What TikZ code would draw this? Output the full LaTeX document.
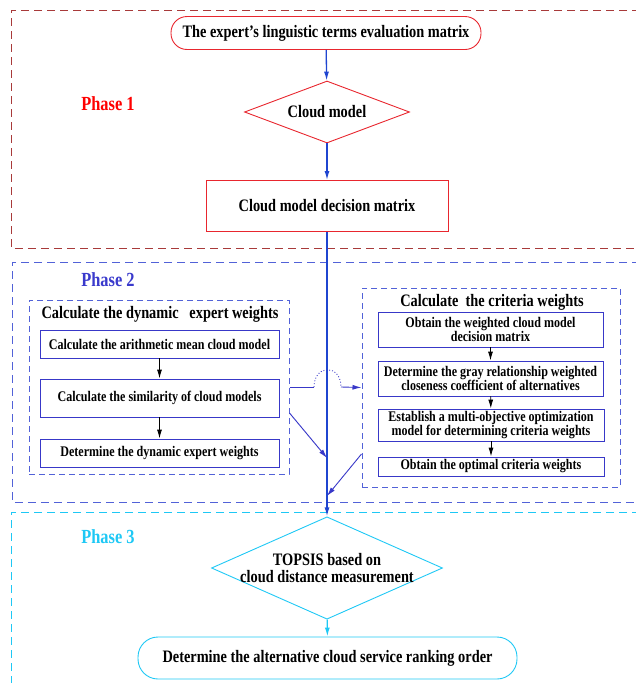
\documentclass[tikz,border=0pt]{standalone}
\usepackage{fontspec}
\setmainfont{Liberation Serif}[FakeStretch=0.82]
\usetikzlibrary{shapes.geometric, arrows.meta, calc}
\definecolor{nodered}{HTML}{E8262E}
\definecolor{framered}{HTML}{A83A3A}
\definecolor{flowblue}{HTML}{1F45D0}
\definecolor{phaseblue}{HTML}{3A3ACC}
\definecolor{boxblue}{HTML}{3838C8}
\definecolor{dashblue}{HTML}{5262D8}
\definecolor{phasecyan}{HTML}{1EC8F5}
\begin{document}
\begin{tikzpicture}[x = 1pt, y = -1pt,
  txt/.style = {font = \bfseries\fontsize{17.5}{17.5}\selectfont, align = center, inner sep = 0pt},
  small/.style = {font = \bfseries\fontsize{14.7}{14.5}\selectfont, align = center, inner sep = 0pt},
  pill/.style = {txt, draw, rounded corners = 16pt, line width = 0.9pt},
  decide/.style = {txt, draw, diamond, line width = 0.9pt, inner xsep = -40pt, inner ysep = -10pt},
  stepbox/.style = {small, draw = boxblue, line width = 0.9pt, minimum width = 239pt},
  group/.style = {draw = dashblue, line width = 1pt, dash pattern = on 6pt off 4pt},
  phase/.style = {font = \bfseries\fontsize{20}{20}\selectfont, inner sep = 0pt},
  flow/.style = {line width = 1.3pt, -{Latex[length = 9pt, width = 5pt]}},
  thin/.style = {line width = 0.9pt, -{Latex[length = 9pt, width = 5pt]}}]
\useasboundingbox (0, 0) rectangle (636, 683);
% phase frames
\draw [framered, line width = 1pt, dash pattern = on 8pt off 5pt] (640, 10) -- (11, 10) -- (11, 248) -- (640, 248);
\draw [dashblue, line width = 1pt, dash pattern = on 8pt off 5pt] (640, 262) -- (12, 262) -- (12, 502) -- (640, 502);
\draw [phasecyan, line width = 1pt, dash pattern = on 8pt off 5pt] (640, 512) -- (11, 512) -- (11, 690);
\node [phase, text = red] (p1) at (108, 104) {Phase 1};
\node [phase, text = phaseblue] (p2) at (108, 280) {Phase 2};
\node [phase, text = phasecyan] (p3) at (108, 537) {Phase 3};
% phase 1
\node [pill, draw = nodered, minimum width = 310pt, minimum height = 33pt] (terms) at (326, 33) {The expert’s linguistic terms evaluation matrix};
\node [decide, draw = nodered, minimum width = 165pt, minimum height = 62pt] (cloud) at (327, 112) {Cloud model};
\node [txt, draw = nodered, line width = 0.9pt, minimum width = 242pt, minimum height = 51pt] (matrix) at (327, 206) {Cloud model decision matrix};
\draw [flow, flowblue] (terms) -- (cloud);
\draw [flow, flowblue] (cloud) -- (matrix);
% phase 2, expert weights
\node [group, minimum width = 260pt, minimum height = 174pt] (dynbox) at (159, 387) {};
\node [txt] (dyntitle) at (160, 314) {Calculate the dynamic \ \ expert weights};
\node [stepbox, minimum height = 28pt] (mean) at (159.5, 344) {Calculate the arithmetic mean cloud model};
\node [stepbox, minimum height = 38pt] (simil) at (159.5, 398) {Calculate the similarity of cloud models};
\node [stepbox, minimum height = 28pt] (expw) at (159.5, 453) {Determine the dynamic expert weights};
\draw [thin] (mean) -- (simil);
\draw [thin] (simil) -- (expw);
% phase 2, criteria weights
\node [group, minimum width = 258pt, minimum height = 199pt] (critbox) at (491, 387.5) {};
\node [txt] (crittitle) at (492, 302) {Calculate \ the criteria weights};
\node [stepbox, minimum width = 225pt, minimum height = 35pt] (wmat) at (490.5, 329.5) {Obtain the weighted cloud model\\decision matrix};
\node [stepbox, minimum width = 225pt, minimum height = 35pt] (gray) at (490.5, 378.5) {Determine the gray relationship weighted\\closeness coefficient of alternatives};
\node [stepbox, minimum width = 226pt, minimum height = 32pt] (optim) at (491, 425) {Establish a multi-objective optimization\\model for determining criteria weights};
\node [stepbox, minimum width = 226pt, minimum height = 19pt] (critw) at (491, 466.5) {Obtain the optimal criteria weights};
\draw [thin] (wmat) -- (gray);
\draw [thin] (gray) -- (optim);
\draw [thin] (optim) -- (critw);
% phase 3
\node [decide, draw = phasecyan, minimum width = 231pt, minimum height = 66pt, font = \bfseries\fontsize{17.5}{16.5}\selectfont] (topsis) at (327, 568) {TOPSIS based on\\cloud distance measurement};
\node [pill, draw = phasecyan, minimum width = 379pt, minimum height = 42pt, rounded corners = 20pt] (rank) at (327.5, 658) {Determine the alternative cloud service ranking order};
\draw [flow, flowblue] (matrix) -- (topsis);
\draw [flow, phasecyan] (topsis) -- (rank);
% links into the main line
\coordinate (hopa) at (314, 387);
\coordinate (hopb) at (341, 387);
\coordinate (joina) at (327, 458);
\coordinate (joinb) at (327, 496);
\draw [boxblue, line width = 0.9pt] (dynbox.east) -- (hopa);
\draw [boxblue, line width = 0.9pt, dotted] (hopa) .. controls (314, 364) and (341, 364) .. (hopb);
\draw [thin, boxblue] (hopb) -- (critbox.west);
\draw [thin, boxblue] ($(dynbox.east) + (0, 26)$) -- (joina);
\draw [thin, boxblue] ($(critbox.west) + (0, 66.5)$) -- (joinb);
\end{tikzpicture}
\end{document}
